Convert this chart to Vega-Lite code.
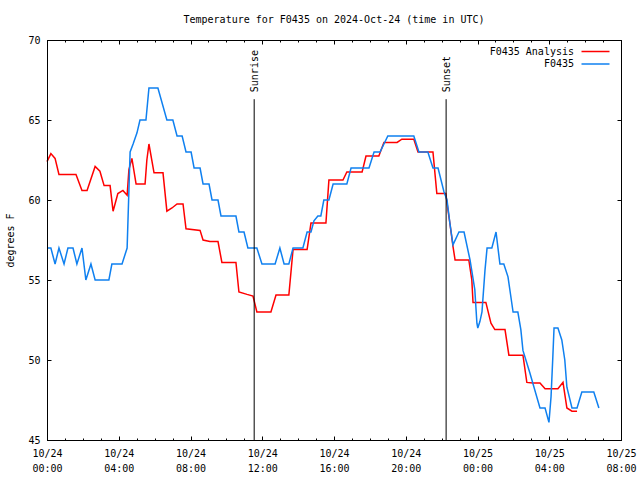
{
  "$schema": "https://vega.github.io/schema/vega-lite/v6.json",
  "width": 574,
  "height": 400,
  "autosize": {"type": "none"},
  "padding": {"left": 47, "top": 40, "right": 19, "bottom": 40},
  "background": "white",
  "config": {
    "font": "DejaVu Sans Mono",
    "view": {"stroke": "black", "strokeWidth": 1},
    "axis": {"labelFont": "DejaVu Sans Mono", "labelFontSize": 10, "labelColor": "black", "titleFont": "DejaVu Sans Mono", "titleFontSize": 10, "titleFontWeight": "normal", "titleColor": "black", "tickColor": "black", "tickWidth": 1, "domainColor": "black", "grid": false}
  },
  "title": {"text": "Temperature for F0435 on 2024-Oct-24 (time in UTC)", "font": "DejaVu Sans Mono", "fontSize": 10, "fontWeight": "normal", "color": "black", "anchor": "middle", "frame": "group", "offset": 10},
  "datasets": {
    "temps": [
      {"s": "F0435 Analysis", "t": "2024-10-24T00:00:00Z", "v": 62.4},
      {"s": "F0435 Analysis", "t": "2024-10-24T00:13:00Z", "v": 62.9},
      {"s": "F0435 Analysis", "t": "2024-10-24T00:27:00Z", "v": 62.6},
      {"s": "F0435 Analysis", "t": "2024-10-24T00:40:00Z", "v": 61.6},
      {"s": "F0435 Analysis", "t": "2024-10-24T01:37:00Z", "v": 61.6},
      {"s": "F0435 Analysis", "t": "2024-10-24T01:57:00Z", "v": 60.6},
      {"s": "F0435 Analysis", "t": "2024-10-24T02:14:00Z", "v": 60.6},
      {"s": "F0435 Analysis", "t": "2024-10-24T02:41:00Z", "v": 62.1},
      {"s": "F0435 Analysis", "t": "2024-10-24T02:57:00Z", "v": 61.8},
      {"s": "F0435 Analysis", "t": "2024-10-24T03:11:00Z", "v": 60.9},
      {"s": "F0435 Analysis", "t": "2024-10-24T03:31:00Z", "v": 60.9},
      {"s": "F0435 Analysis", "t": "2024-10-24T03:41:00Z", "v": 59.3},
      {"s": "F0435 Analysis", "t": "2024-10-24T03:57:00Z", "v": 60.4},
      {"s": "F0435 Analysis", "t": "2024-10-24T04:14:00Z", "v": 60.6},
      {"s": "F0435 Analysis", "t": "2024-10-24T04:28:00Z", "v": 60.3},
      {"s": "F0435 Analysis", "t": "2024-10-24T04:34:00Z", "v": 61.9},
      {"s": "F0435 Analysis", "t": "2024-10-24T04:44:00Z", "v": 62.6},
      {"s": "F0435 Analysis", "t": "2024-10-24T04:58:00Z", "v": 61.0},
      {"s": "F0435 Analysis", "t": "2024-10-24T05:28:00Z", "v": 61.0},
      {"s": "F0435 Analysis", "t": "2024-10-24T05:34:00Z", "v": 62.5},
      {"s": "F0435 Analysis", "t": "2024-10-24T05:41:00Z", "v": 63.5},
      {"s": "F0435 Analysis", "t": "2024-10-24T05:58:00Z", "v": 61.7},
      {"s": "F0435 Analysis", "t": "2024-10-24T06:28:00Z", "v": 61.7},
      {"s": "F0435 Analysis", "t": "2024-10-24T06:41:00Z", "v": 59.3},
      {"s": "F0435 Analysis", "t": "2024-10-24T06:58:00Z", "v": 59.5},
      {"s": "F0435 Analysis", "t": "2024-10-24T07:15:00Z", "v": 59.75},
      {"s": "F0435 Analysis", "t": "2024-10-24T07:35:00Z", "v": 59.75},
      {"s": "F0435 Analysis", "t": "2024-10-24T07:45:00Z", "v": 58.2},
      {"s": "F0435 Analysis", "t": "2024-10-24T08:32:00Z", "v": 58.1},
      {"s": "F0435 Analysis", "t": "2024-10-24T08:42:00Z", "v": 57.5},
      {"s": "F0435 Analysis", "t": "2024-10-24T09:05:00Z", "v": 57.4},
      {"s": "F0435 Analysis", "t": "2024-10-24T09:32:00Z", "v": 57.4},
      {"s": "F0435 Analysis", "t": "2024-10-24T09:45:00Z", "v": 56.1},
      {"s": "F0435 Analysis", "t": "2024-10-24T10:32:00Z", "v": 56.1},
      {"s": "F0435 Analysis", "t": "2024-10-24T10:42:00Z", "v": 54.25},
      {"s": "F0435 Analysis", "t": "2024-10-24T11:09:00Z", "v": 54.1},
      {"s": "F0435 Analysis", "t": "2024-10-24T11:29:00Z", "v": 54.0},
      {"s": "F0435 Analysis", "t": "2024-10-24T11:42:00Z", "v": 53.0},
      {"s": "F0435 Analysis", "t": "2024-10-24T12:29:00Z", "v": 53.0},
      {"s": "F0435 Analysis", "t": "2024-10-24T12:46:00Z", "v": 54.06},
      {"s": "F0435 Analysis", "t": "2024-10-24T13:29:00Z", "v": 54.06},
      {"s": "F0435 Analysis", "t": "2024-10-24T13:43:00Z", "v": 56.9},
      {"s": "F0435 Analysis", "t": "2024-10-24T14:30:00Z", "v": 56.9},
      {"s": "F0435 Analysis", "t": "2024-10-24T14:43:00Z", "v": 58.56},
      {"s": "F0435 Analysis", "t": "2024-10-24T15:33:00Z", "v": 58.56},
      {"s": "F0435 Analysis", "t": "2024-10-24T15:43:00Z", "v": 61.25},
      {"s": "F0435 Analysis", "t": "2024-10-24T16:30:00Z", "v": 61.25},
      {"s": "F0435 Analysis", "t": "2024-10-24T16:43:00Z", "v": 61.75},
      {"s": "F0435 Analysis", "t": "2024-10-24T17:34:00Z", "v": 61.75},
      {"s": "F0435 Analysis", "t": "2024-10-24T17:47:00Z", "v": 62.75},
      {"s": "F0435 Analysis", "t": "2024-10-24T18:30:00Z", "v": 62.75},
      {"s": "F0435 Analysis", "t": "2024-10-24T18:47:00Z", "v": 63.6},
      {"s": "F0435 Analysis", "t": "2024-10-24T19:31:00Z", "v": 63.6},
      {"s": "F0435 Analysis", "t": "2024-10-24T19:47:00Z", "v": 63.8},
      {"s": "F0435 Analysis", "t": "2024-10-24T20:27:00Z", "v": 63.8},
      {"s": "F0435 Analysis", "t": "2024-10-24T20:41:00Z", "v": 63.0},
      {"s": "F0435 Analysis", "t": "2024-10-24T21:31:00Z", "v": 63.0},
      {"s": "F0435 Analysis", "t": "2024-10-24T21:44:00Z", "v": 60.4},
      {"s": "F0435 Analysis", "t": "2024-10-24T22:14:00Z", "v": 60.4},
      {"s": "F0435 Analysis", "t": "2024-10-24T22:21:00Z", "v": 59.4},
      {"s": "F0435 Analysis", "t": "2024-10-24T22:28:00Z", "v": 58.5},
      {"s": "F0435 Analysis", "t": "2024-10-24T22:38:00Z", "v": 57.1},
      {"s": "F0435 Analysis", "t": "2024-10-24T22:45:00Z", "v": 56.25},
      {"s": "F0435 Analysis", "t": "2024-10-24T23:31:00Z", "v": 56.25},
      {"s": "F0435 Analysis", "t": "2024-10-24T23:41:00Z", "v": 55.0},
      {"s": "F0435 Analysis", "t": "2024-10-24T23:45:00Z", "v": 53.6},
      {"s": "F0435 Analysis", "t": "2024-10-25T00:28:00Z", "v": 53.6},
      {"s": "F0435 Analysis", "t": "2024-10-25T00:45:00Z", "v": 52.3},
      {"s": "F0435 Analysis", "t": "2024-10-25T00:58:00Z", "v": 51.9},
      {"s": "F0435 Analysis", "t": "2024-10-25T01:32:00Z", "v": 51.9},
      {"s": "F0435 Analysis", "t": "2024-10-25T01:45:00Z", "v": 50.3},
      {"s": "F0435 Analysis", "t": "2024-10-25T02:32:00Z", "v": 50.3},
      {"s": "F0435 Analysis", "t": "2024-10-25T02:45:00Z", "v": 48.6},
      {"s": "F0435 Analysis", "t": "2024-10-25T03:05:00Z", "v": 48.56},
      {"s": "F0435 Analysis", "t": "2024-10-25T03:29:00Z", "v": 48.56},
      {"s": "F0435 Analysis", "t": "2024-10-25T03:46:00Z", "v": 48.2},
      {"s": "F0435 Analysis", "t": "2024-10-25T04:29:00Z", "v": 48.2},
      {"s": "F0435 Analysis", "t": "2024-10-25T04:46:00Z", "v": 48.6},
      {"s": "F0435 Analysis", "t": "2024-10-25T04:59:00Z", "v": 47.0},
      {"s": "F0435 Analysis", "t": "2024-10-25T05:16:00Z", "v": 46.8},
      {"s": "F0435 Analysis", "t": "2024-10-25T05:33:00Z", "v": 46.8},
      {"s": "F0435", "t": "2024-10-24T00:00:00Z", "v": 57},
      {"s": "F0435", "t": "2024-10-24T00:13:00Z", "v": 57},
      {"s": "F0435", "t": "2024-10-24T00:27:00Z", "v": 56},
      {"s": "F0435", "t": "2024-10-24T00:40:00Z", "v": 57},
      {"s": "F0435", "t": "2024-10-24T00:57:00Z", "v": 56},
      {"s": "F0435", "t": "2024-10-24T01:10:00Z", "v": 57},
      {"s": "F0435", "t": "2024-10-24T01:27:00Z", "v": 57},
      {"s": "F0435", "t": "2024-10-24T01:40:00Z", "v": 56},
      {"s": "F0435", "t": "2024-10-24T01:57:00Z", "v": 57},
      {"s": "F0435", "t": "2024-10-24T02:10:00Z", "v": 55},
      {"s": "F0435", "t": "2024-10-24T02:27:00Z", "v": 56},
      {"s": "F0435", "t": "2024-10-24T02:41:00Z", "v": 55},
      {"s": "F0435", "t": "2024-10-24T03:27:00Z", "v": 55},
      {"s": "F0435", "t": "2024-10-24T03:37:00Z", "v": 56},
      {"s": "F0435", "t": "2024-10-24T04:11:00Z", "v": 56},
      {"s": "F0435", "t": "2024-10-24T04:28:00Z", "v": 57},
      {"s": "F0435", "t": "2024-10-24T04:38:00Z", "v": 63},
      {"s": "F0435", "t": "2024-10-24T04:48:00Z", "v": 63.5},
      {"s": "F0435", "t": "2024-10-24T05:01:00Z", "v": 64.2},
      {"s": "F0435", "t": "2024-10-24T05:11:00Z", "v": 65},
      {"s": "F0435", "t": "2024-10-24T05:31:00Z", "v": 65},
      {"s": "F0435", "t": "2024-10-24T05:41:00Z", "v": 67},
      {"s": "F0435", "t": "2024-10-24T06:11:00Z", "v": 67},
      {"s": "F0435", "t": "2024-10-24T06:41:00Z", "v": 65},
      {"s": "F0435", "t": "2024-10-24T07:01:00Z", "v": 65},
      {"s": "F0435", "t": "2024-10-24T07:15:00Z", "v": 64},
      {"s": "F0435", "t": "2024-10-24T07:32:00Z", "v": 64},
      {"s": "F0435", "t": "2024-10-24T07:45:00Z", "v": 63},
      {"s": "F0435", "t": "2024-10-24T08:02:00Z", "v": 63},
      {"s": "F0435", "t": "2024-10-24T08:12:00Z", "v": 62},
      {"s": "F0435", "t": "2024-10-24T08:32:00Z", "v": 62},
      {"s": "F0435", "t": "2024-10-24T08:42:00Z", "v": 61},
      {"s": "F0435", "t": "2024-10-24T09:02:00Z", "v": 61},
      {"s": "F0435", "t": "2024-10-24T09:12:00Z", "v": 60},
      {"s": "F0435", "t": "2024-10-24T09:32:00Z", "v": 60},
      {"s": "F0435", "t": "2024-10-24T09:42:00Z", "v": 59},
      {"s": "F0435", "t": "2024-10-24T10:32:00Z", "v": 59},
      {"s": "F0435", "t": "2024-10-24T10:42:00Z", "v": 58},
      {"s": "F0435", "t": "2024-10-24T10:59:00Z", "v": 58},
      {"s": "F0435", "t": "2024-10-24T11:12:00Z", "v": 57},
      {"s": "F0435", "t": "2024-10-24T11:42:00Z", "v": 57},
      {"s": "F0435", "t": "2024-10-24T11:59:00Z", "v": 56},
      {"s": "F0435", "t": "2024-10-24T12:43:00Z", "v": 56},
      {"s": "F0435", "t": "2024-10-24T12:59:00Z", "v": 57},
      {"s": "F0435", "t": "2024-10-24T13:13:00Z", "v": 56},
      {"s": "F0435", "t": "2024-10-24T13:29:00Z", "v": 56},
      {"s": "F0435", "t": "2024-10-24T13:43:00Z", "v": 57},
      {"s": "F0435", "t": "2024-10-24T14:16:00Z", "v": 57},
      {"s": "F0435", "t": "2024-10-24T14:30:00Z", "v": 58},
      {"s": "F0435", "t": "2024-10-24T14:43:00Z", "v": 58},
      {"s": "F0435", "t": "2024-10-24T14:53:00Z", "v": 58.7},
      {"s": "F0435", "t": "2024-10-24T15:06:00Z", "v": 59},
      {"s": "F0435", "t": "2024-10-24T15:16:00Z", "v": 59},
      {"s": "F0435", "t": "2024-10-24T15:26:00Z", "v": 60},
      {"s": "F0435", "t": "2024-10-24T15:43:00Z", "v": 60},
      {"s": "F0435", "t": "2024-10-24T15:57:00Z", "v": 61},
      {"s": "F0435", "t": "2024-10-24T16:43:00Z", "v": 61},
      {"s": "F0435", "t": "2024-10-24T16:57:00Z", "v": 62},
      {"s": "F0435", "t": "2024-10-24T17:57:00Z", "v": 62},
      {"s": "F0435", "t": "2024-10-24T18:14:00Z", "v": 63},
      {"s": "F0435", "t": "2024-10-24T18:34:00Z", "v": 63},
      {"s": "F0435", "t": "2024-10-24T19:00:00Z", "v": 64},
      {"s": "F0435", "t": "2024-10-24T20:27:00Z", "v": 64},
      {"s": "F0435", "t": "2024-10-24T20:44:00Z", "v": 63},
      {"s": "F0435", "t": "2024-10-24T21:14:00Z", "v": 63},
      {"s": "F0435", "t": "2024-10-24T21:31:00Z", "v": 62},
      {"s": "F0435", "t": "2024-10-24T21:48:00Z", "v": 62},
      {"s": "F0435", "t": "2024-10-24T22:08:00Z", "v": 60.5},
      {"s": "F0435", "t": "2024-10-24T22:18:00Z", "v": 60},
      {"s": "F0435", "t": "2024-10-24T22:28:00Z", "v": 58.5},
      {"s": "F0435", "t": "2024-10-24T22:38:00Z", "v": 57.2},
      {"s": "F0435", "t": "2024-10-24T22:58:00Z", "v": 58},
      {"s": "F0435", "t": "2024-10-24T23:15:00Z", "v": 58},
      {"s": "F0435", "t": "2024-10-24T23:35:00Z", "v": 56.25},
      {"s": "F0435", "t": "2024-10-24T23:51:00Z", "v": 54.4},
      {"s": "F0435", "t": "2024-10-24T23:58:00Z", "v": 52.3},
      {"s": "F0435", "t": "2024-10-25T00:01:00Z", "v": 52},
      {"s": "F0435", "t": "2024-10-25T00:08:00Z", "v": 52.4},
      {"s": "F0435", "t": "2024-10-25T00:15:00Z", "v": 53},
      {"s": "F0435", "t": "2024-10-25T00:25:00Z", "v": 55.6},
      {"s": "F0435", "t": "2024-10-25T00:32:00Z", "v": 57},
      {"s": "F0435", "t": "2024-10-25T00:48:00Z", "v": 57},
      {"s": "F0435", "t": "2024-10-25T01:02:00Z", "v": 58},
      {"s": "F0435", "t": "2024-10-25T01:15:00Z", "v": 56},
      {"s": "F0435", "t": "2024-10-25T01:28:00Z", "v": 56},
      {"s": "F0435", "t": "2024-10-25T01:42:00Z", "v": 55.2},
      {"s": "F0435", "t": "2024-10-25T01:59:00Z", "v": 53},
      {"s": "F0435", "t": "2024-10-25T02:15:00Z", "v": 53},
      {"s": "F0435", "t": "2024-10-25T02:25:00Z", "v": 51.9},
      {"s": "F0435", "t": "2024-10-25T02:32:00Z", "v": 50.6},
      {"s": "F0435", "t": "2024-10-25T02:55:00Z", "v": 49.2},
      {"s": "F0435", "t": "2024-10-25T03:29:00Z", "v": 47},
      {"s": "F0435", "t": "2024-10-25T03:46:00Z", "v": 47},
      {"s": "F0435", "t": "2024-10-25T03:59:00Z", "v": 46.1},
      {"s": "F0435", "t": "2024-10-25T04:06:00Z", "v": 47.7},
      {"s": "F0435", "t": "2024-10-25T04:12:00Z", "v": 50.2},
      {"s": "F0435", "t": "2024-10-25T04:16:00Z", "v": 52},
      {"s": "F0435", "t": "2024-10-25T04:29:00Z", "v": 52},
      {"s": "F0435", "t": "2024-10-25T04:42:00Z", "v": 51.25},
      {"s": "F0435", "t": "2024-10-25T04:52:00Z", "v": 50},
      {"s": "F0435", "t": "2024-10-25T04:59:00Z", "v": 48.3},
      {"s": "F0435", "t": "2024-10-25T05:16:00Z", "v": 47},
      {"s": "F0435", "t": "2024-10-25T05:33:00Z", "v": 47},
      {"s": "F0435", "t": "2024-10-25T05:49:00Z", "v": 48},
      {"s": "F0435", "t": "2024-10-25T06:29:00Z", "v": 48},
      {"s": "F0435", "t": "2024-10-25T06:46:00Z", "v": 47}
    ],
    "sun": [
      {"t": "2024-10-24T11:33:00Z", "label": "Sunrise"},
      {"t": "2024-10-24T22:15:00Z", "label": "Sunset"}
    ]
  },
  "layer": [
    {
      "data": {"name": "temps"},
      "transform": [{"filter": "datum.s == 'F0435 Analysis'"}],
      "mark": {"type": "line", "strokeWidth": 1.5},
      "encoding": {
        "x": {
          "field": "t", "type": "temporal",
          "scale": {"type": "utc", "domain": [1729728000000, 1729843200000], "nice": false},
          "axis": {
            "orient": "bottom", "title": null, "domain": true, "zindex": 1,
            "values": [1729728000000, 1729742400000, 1729756800000, 1729771200000, 1729785600000, 1729800000000, 1729814400000, 1729828800000, 1729843200000],
            "tickSize": -4,
            "labelExpr": "[utcFormat(datum.value, '%m/%d'), utcFormat(datum.value, '%H:%M')]",
            "labelPadding": 12, "labelOverlap": false, "labelFlush": false, "labelBound": false, "labelLineHeight": 15
          }
        },
        "y": {
          "field": "v", "type": "quantitative",
          "scale": {"domain": [45, 70], "nice": false, "zero": false},
          "axis": {"orient": "left", "title": "degrees F", "titleX": -36.5, "titleY": 200, "titleAngle": 270, "titleAlign": "center", "titleBaseline": "middle", "values": [45, 50, 55, 60, 65, 70], "tickSize": -4, "labelPadding": 11, "domain": true, "zindex": 1}
        },
        "color": {
          "field": "s", "type": "nominal",
          "scale": {"domain": ["F0435 Analysis", "F0435"], "range": ["#ff0000", "#0f80f0"]},
          "legend": {
            "orient": "none", "legendX": 543.5, "legendY": 6.5, "title": null, "padding": 0,
            "symbolType": "M-4,0H4", "symbolSize": 49, "symbolStrokeWidth": 1.5,
            "labelAlign": "right", "labelOffset": -26.5, "labelFont": "DejaVu Sans Mono", "labelFontSize": 10, "labelColor": "black",
            "rowPadding": 2.5
          }
        }
      }
    },
    {
      "data": {"name": "temps"},
      "transform": [{"filter": "datum.s == 'F0435'"}],
      "mark": {"type": "line", "strokeWidth": 1.5},
      "encoding": {
        "x": {
          "field": "t", "type": "temporal",
          "axis": {
            "orient": "top", "title": null, "domain": true, "labels": false, "zindex": 1,
            "values": [1729728000000, 1729742400000, 1729756800000, 1729771200000, 1729785600000, 1729800000000, 1729814400000, 1729828800000, 1729843200000],
            "tickSize": -4
          }
        },
        "y": {
          "field": "v", "type": "quantitative",
          "axis": {"orient": "right", "title": null, "values": [45, 50, 55, 60, 65, 70], "tickSize": -4, "labels": false, "domain": true, "zindex": 1}
        },
        "color": {
          "field": "s", "type": "nominal",
          "legend": {
            "orient": "none", "legendX": 543.5, "legendY": 6.5, "title": null, "padding": 0,
            "symbolType": "M-4,0H4", "symbolSize": 49, "symbolStrokeWidth": 1.5,
            "labelAlign": "right", "labelOffset": -26.5, "labelFont": "DejaVu Sans Mono", "labelFontSize": 10, "labelColor": "black",
            "rowPadding": 2.5
          }
        }
      }
    },
    {
      "data": {"name": "sun"},
      "mark": {"type": "rule", "color": "black", "strokeWidth": 1},
      "encoding": {
        "x": {
          "field": "t", "type": "temporal",
          "axis": {"orient": "bottom", "title": null, "domain": true, "labels": false, "tickSize": -2, "zindex": 1,
            "values": [1729728000000, 1729731600000, 1729735200000, 1729738800000, 1729742400000, 1729746000000, 1729749600000, 1729753200000, 1729756800000, 1729760400000, 1729764000000, 1729767600000, 1729771200000, 1729774800000, 1729778400000, 1729782000000, 1729785600000, 1729789200000, 1729792800000, 1729796400000, 1729800000000, 1729803600000, 1729807200000, 1729810800000, 1729814400000, 1729818000000, 1729821600000, 1729825200000, 1729828800000, 1729832400000, 1729836000000, 1729839600000, 1729843200000]}
        },
        "y": {"datum": 66.3, "type": "quantitative", "axis": null},
        "y2": {"datum": 45}
      }
    },
    {
      "data": {"name": "sun"},
      "mark": {"type": "text", "angle": 270, "align": "left", "baseline": "middle", "dx": 7, "dy": 1, "font": "DejaVu Sans Mono", "fontSize": 10, "color": "black"},
      "encoding": {
        "x": {"field": "t", "type": "temporal",
          "axis": {"orient": "top", "title": null, "domain": true, "labels": false, "tickSize": -2, "zindex": 1,
            "values": [1729728000000, 1729731600000, 1729735200000, 1729738800000, 1729742400000, 1729746000000, 1729749600000, 1729753200000, 1729756800000, 1729760400000, 1729764000000, 1729767600000, 1729771200000, 1729774800000, 1729778400000, 1729782000000, 1729785600000, 1729789200000, 1729792800000, 1729796400000, 1729800000000, 1729803600000, 1729807200000, 1729810800000, 1729814400000, 1729818000000, 1729821600000, 1729825200000, 1729828800000, 1729832400000, 1729836000000, 1729839600000, 1729843200000]}},
        "y": {"datum": 66.3, "type": "quantitative", "axis": null},
        "text": {"field": "label"}
      }
    }
  ],
  "resolve": {"axis": {"x": "independent", "y": "independent"}}
}
